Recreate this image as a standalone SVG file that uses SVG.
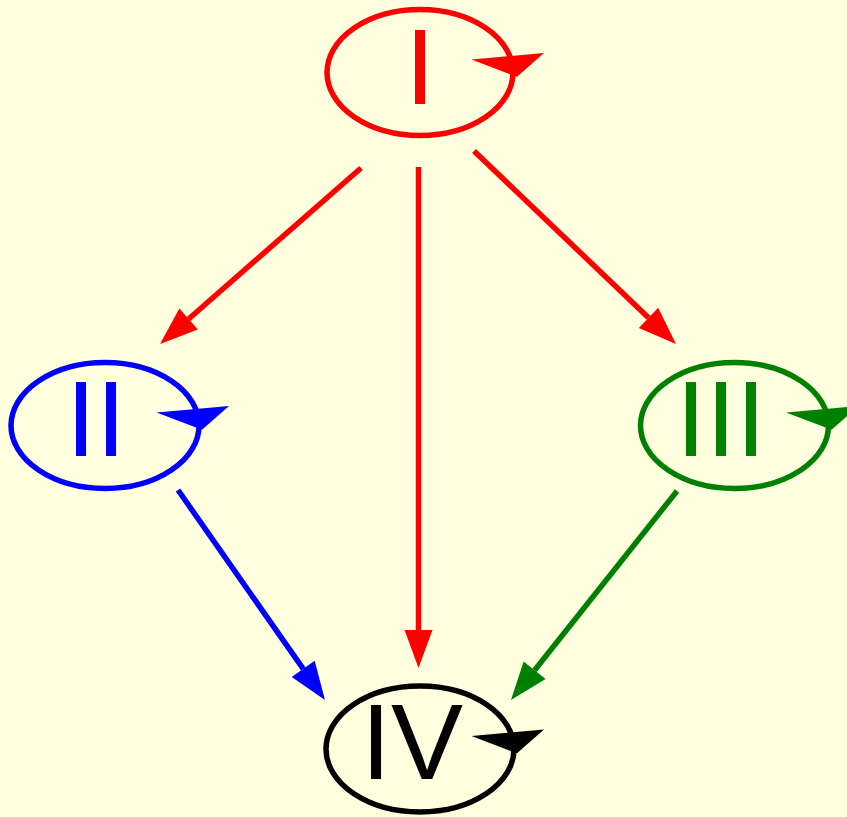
<svg xmlns="http://www.w3.org/2000/svg" width="847" height="817" viewBox="0 0 847 817">
<defs>
<style>
.lbl{font-family:"Liberation Sans",Arial,sans-serif;font-size:108px}
.ell{fill:none;stroke-width:5.5}
.edge{fill:none;stroke-width:5.5}
</style>
<marker id="mr" markerUnits="userSpaceOnUse" markerWidth="38" markerHeight="28" refX="0" refY="14" orient="auto" overflow="visible"><path d="M0,0 L38,14 L0,28 z" fill="#ff0000"/></marker>
<marker id="mb" markerUnits="userSpaceOnUse" markerWidth="38" markerHeight="28" refX="0" refY="14" orient="auto" overflow="visible"><path d="M0,0 L38,14 L0,28 z" fill="#0000ff"/></marker>
<marker id="mg" markerUnits="userSpaceOnUse" markerWidth="38" markerHeight="28" refX="0" refY="14" orient="auto" overflow="visible"><path d="M0,0 L38,14 L0,28 z" fill="#008000"/></marker>
<path id="loop" d="M51.5,-13 L124,-19.5 L97,4.3 z"/>
</defs>
<rect width="847" height="817" fill="#ffffe0"/>
<g id="connectors">
<line class="edge" x1="361" y1="168" x2="188.6" y2="319" stroke="#ff0000" marker-end="url(#mr)"/>
<line class="edge" x1="418.5" y1="167" x2="418.5" y2="630" stroke="#ff0000" marker-end="url(#mr)"/>
<line class="edge" x1="474" y1="151" x2="648.5" y2="317.8" stroke="#ff0000" marker-end="url(#mr)"/>
<line class="edge" x1="178" y1="490" x2="303.2" y2="668.9" stroke="#0000ff" marker-end="url(#mb)"/>
<line class="edge" x1="677" y1="491" x2="534.6" y2="670.2" stroke="#008000" marker-end="url(#mg)"/>
</g>
<g id="node-I">
<ellipse class="ell" cx="420" cy="72.5" rx="93" ry="63" stroke="#ff0000"/>
<text class="lbl" x="405" y="104" fill="#ff0000">I</text>
<use href="#loop" transform="translate(420,72.5)" fill="#ff0000"/>
</g>
<g id="node-II">
<ellipse class="ell" cx="105" cy="425.5" rx="94" ry="63" stroke="#0000ff"/>
<text class="lbl" x="66" y="456" fill="#0000ff">II</text>
<use href="#loop" transform="translate(105,425.5)" fill="#0000ff"/>
</g>
<g id="node-III">
<ellipse class="ell" cx="734.5" cy="425.5" rx="94" ry="63" stroke="#008000"/>
<text class="lbl" x="676" y="456" fill="#008000">III</text>
<use href="#loop" transform="translate(734.5,425.5)" fill="#008000"/>
</g>
<g id="node-IV">
<ellipse class="ell" cx="420" cy="749" rx="94" ry="63" stroke="#000000"/>
<text class="lbl" x="361" y="779" fill="#000000">IV</text>
<use href="#loop" transform="translate(420,749)" fill="#000000"/>
</g>
</svg>
